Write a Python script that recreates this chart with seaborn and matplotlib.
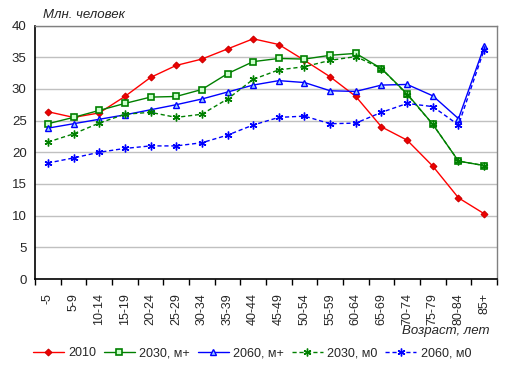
import matplotlib
matplotlib.use("Agg")
import matplotlib.pyplot as plt
import seaborn as sns
import numpy as np

ages = ["-5", "5-9", "10-14", "15-19", "20-24", "25-29", "30-34", "35-39", "40-44",
        "45-49", "50-54", "55-59", "60-64", "65-69", "70-74", "75-79", "80-84", "85+"]

y2010 = [26.4, 25.5, 26.2, 28.8, 31.8, 33.7, 34.7, 36.3, 37.9, 37.0, 34.5, 31.9,
         28.8, 24.0, 21.9, 17.8, 12.8, 10.3]
y2030p = [24.5, 25.5, 26.6, 27.7, 28.7, 28.8, 29.9, 32.4, 34.3, 34.8, 34.7, 35.3,
          35.6, 33.2, 29.2, 24.4, 18.6, 17.9]
y2060p = [23.8, 24.5, 25.2, 25.9, 26.7, 27.5, 28.4, 29.5, 30.6, 31.3, 31.0, 29.7,
          29.6, 30.6, 30.7, 28.9, 25.3, 36.7]
y2030z = [21.6, 22.9, 24.6, 26.0, 26.3, 25.5, 26.0, 28.4, 31.5, 33.0, 33.5, 34.5,
          35.1, 33.2, 29.1, 24.4, 18.6, 17.9]
y2060z = [18.3, 19.1, 20.0, 20.6, 21.0, 21.0, 21.5, 22.7, 24.3, 25.5, 25.7, 24.5,
          24.6, 26.3, 27.7, 27.2, 24.3, 36.2]
names = ["2010", "2030, м+", "2060, м+", "2030, м0", "2060, м0"]

sns.set_style("white")
plt.rcParams['font.family'] = ['Liberation Sans', 'DejaVu Sans']

fig = plt.figure(figsize=(5.13, 3.69), dpi=100)
ax = fig.add_axes([35 / 513, 1 - 279 / 369, 462 / 513, 253.5 / 369])

n = len(ages)
x = np.arange(n)
star = (6, 2, 0)
styles = [
    dict(color="#ff0000", marker="D", ms=5, mfc="#ee0000", mec="#cc0000", lw=1.0, ls="-"),
    dict(color="#008000", marker="s", ms=7, mfc="#ccffcc", mec="#008000", lw=1.0, ls="-", mew=1.2),
    dict(color="#0000ff", marker="^", ms=7, mfc="#99ccff", mec="#0000ff", lw=1.0, ls="-", mew=1.0),
    dict(color="#008000", marker=star, ms=8, mec="#008000", lw=1.0, ls=(0, (3, 2)), mew=1.0),
    dict(color="#0000ff", marker=star, ms=8, mec="#0000ff", lw=1.0, ls=(0, (3, 2)), mew=1.0),
]
for ys, name, st in zip([y2010, y2030p, y2060p, y2030z, y2060z], names, styles):
    sns.lineplot(x=x, y=ys, ax=ax, label=name, **st)

ax.set_xlim(-0.5, n - 0.5)
ax.set_ylim(0, 40)
ax.set_yticks(range(0, 41, 5))
ax.yaxis.grid(True, color="#c0c0c0", lw=1)
ax.set_axisbelow(True)

ax.set_xticks(np.arange(-0.5, n, 1.0))
ax.set_xticklabels([])
ax.set_xticks(x, minor=True)
ax.set_xticklabels(ages, minor=True, rotation=90, fontsize=9, va="top")
ax.tick_params(axis="x", which="major", direction="out", length=4, width=1, color="black", bottom=True)
ax.tick_params(axis="x", which="minor", length=0, pad=10)
ax.tick_params(axis="y", length=0, labelsize=9.5, pad=6)

for s in ["left", "bottom"]:
    ax.spines[s].set_color("black")
    ax.spines[s].set_linewidth(1.2)
for s in ["top", "right"]:
    ax.spines[s].set_color("#808080")
    ax.spines[s].set_linewidth(1.0)

fig.text(43 / 513, 1 - 15 / 369, "Млн. человек", fontsize=9.5, style="italic", va="center", ha="left")
fig.text(490 / 513, 1 - 331 / 369, "Возраст, лет", fontsize=9.5, style="italic", va="center", ha="right")

ax.get_legend().remove()
h, l = ax.get_legend_handles_labels()
for hh in h:
    hh.set_markersize(hh.get_markersize() * 0.7)
fig.legend(h, l, loc="center", bbox_to_anchor=(252 / 513, 1 - 353 / 369), ncol=5, frameon=False,
           fontsize=9, handlelength=2.5, columnspacing=0.6, handletextpad=0.35,
           borderpad=0, borderaxespad=0)

fig.savefig("out.png", dpi=100)
